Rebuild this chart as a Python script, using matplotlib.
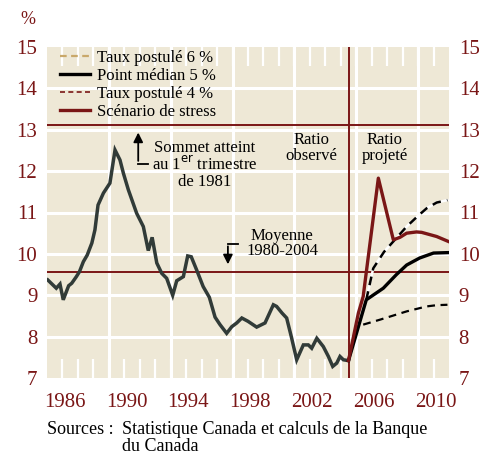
import numpy as np
import matplotlib
matplotlib.use('Agg')
from matplotlib import pyplot as plt
from matplotlib.lines import Line2D

plt.rcParams['font.family'] = ['Liberation Serif', 'DejaVu Serif']

############ DATA

# observed ratio, 1985 - 2004
hist_x = [1985.05, 1985.6, 1985.84, 1986.05, 1986.4, 1986.6, 1986.9, 1987.1, 1987.35, 1987.6,
          1987.9, 1988.1, 1988.3, 1988.65, 1989.07, 1989.4, 1989.72, 1989.94, 1990.26, 1990.8,
          1991.23, 1991.55, 1991.8, 1992.1, 1992.42, 1992.74, 1993.13, 1993.39, 1993.82, 1994.1,
          1994.33, 1994.68, 1995.1, 1995.5, 1995.87, 1996.19, 1996.62, 1996.95, 1997.27, 1997.6,
          1998.0, 1998.56, 1999.1, 1999.64, 1999.85, 2000.2, 2000.5, 2000.8, 2001.15, 2001.58,
          2001.9, 2002.12, 2002.45, 2002.87, 2003.2, 2003.48, 2003.74, 2003.95, 2004.17, 2004.5]
hist_y = [9.37, 9.17, 9.27, 8.89, 9.23, 9.29, 9.45, 9.57, 9.81, 9.97,
          10.26, 10.58, 11.18, 11.47, 11.71, 12.51, 12.27, 11.95, 11.55, 10.98,
          10.66, 10.08, 10.40, 9.78, 9.53, 9.41, 9.0, 9.35, 9.45, 9.95,
          9.93, 9.61, 9.21, 8.95, 8.47, 8.29, 8.08, 8.24, 8.33, 8.45,
          8.37, 8.23, 8.33, 8.77, 8.73, 8.57, 8.45, 8.0, 7.44, 7.8,
          7.8, 7.72, 7.96, 7.76, 7.52, 7.28, 7.36, 7.52, 7.44, 7.42]

# projections
med_x = [2004.5, 2005.65, 2006.75, 2007.6, 2008.26, 2009.1, 2010.0, 2010.9]
med_y = [7.42, 8.89, 9.17, 9.50, 9.73, 9.90, 10.02, 10.03]

high_x = [2005.65, 2006.1, 2006.8, 2007.4, 2008.26, 2009.0, 2009.55, 2010.2, 2010.9]
high_y = [8.89, 9.65, 10.05, 10.30, 10.66, 10.92, 11.10, 11.24, 11.30]

low_x = [2005.45, 2006.54, 2007.4, 2008.26, 2009.55, 2010.2, 2010.9]
low_y = [8.29, 8.41, 8.51, 8.61, 8.73, 8.76, 8.77]

stress_x = [2004.5, 2005.14, 2005.45, 2006.43, 2007.4, 2007.83, 2008.26, 2008.9, 2009.23, 2010.2, 2010.96]
stress_y = [7.42, 8.57, 8.97, 11.83, 10.34, 10.40, 10.50, 10.53, 10.52, 10.42, 10.30]

peak_level = 13.12
mean_level = 9.57
split_year = 2004.5

year_labels = [1986, 1990, 1994, 1998, 2002, 2006, 2010]
y_ticks = [7, 8, 9, 10, 11, 12, 13, 14, 15]

red = '#7a1616'
beige = '#eee8d6'

############ FIGURE

fig = plt.figure(figsize=(4.79, 4.57), dpi=100)
ax = fig.add_axes([47/479, 1-378/457, 402/479, 331/457])
ax.set_facecolor(beige)
for s in ax.spines.values():
    s.set_visible(False)

ax.set_xlim(1985, 2011)
ax.set_ylim(7, 15)

# white grid
for yy in y_ticks[1:-1]:
    ax.axhline(yy, color='white', lw=2.2, zorder=1)
for xx in range(1989, 2011, 4):
    ax.axvline(xx, color='white', lw=2.2, zorder=1)

# yearly white ticks at top and bottom
ax.set_xticks(np.arange(1986, 2011), minor=True)
ax.tick_params(axis='x', which='minor', direction='in', length=14, width=1.6,
               color='white', top=True, bottom=True)
ax.set_xticks([y + 0.15 for y in year_labels])
ax.set_xticklabels([str(y) for y in year_labels])
ax.tick_params(axis='x', which='major', length=0, pad=11, labelsize=15, labelcolor=red)

ax.set_yticks(y_ticks)
ax.tick_params(axis='y', length=0, labelsize=15, labelcolor=red, labelright=True, pad=7)

# reference lines
ax.axhline(peak_level, color=red, lw=1.4, zorder=2)
ax.axhline(mean_level, color=red, lw=1.4, zorder=2)
ax.axvline(split_year, color=red, lw=1.4, zorder=2)

# series
ax.plot(hist_x, hist_y, color='#313b38', lw=2.5, zorder=4, solid_joinstyle='miter')
ax.plot(high_x, high_y, color='white', lw=1.8, zorder=3)
ax.plot(high_x, high_y, color='black', lw=1.8, ls=(0, (3.5, 2.5)), zorder=3)
ax.plot(low_x, low_y, color='black', lw=1.6, ls=(0, (3.5, 2.5)), zorder=3)
ax.plot(med_x, med_y, color='black', lw=2.4, zorder=4)
ax.plot(stress_x, stress_y, color=red, lw=2.4, zorder=5)

# legend
handles = [Line2D([], [], color='#c9a86a', lw=1.6, ls=(0, (3, 2))),
           Line2D([], [], color='black', lw=2.4),
           Line2D([], [], color=red, lw=1.2, ls=(0, (3, 2))),
           Line2D([], [], color=red, lw=2.4)]
labels = ['Taux postulé 6 %', 'Point médian 5 %', 'Taux postulé 4 %', 'Scénario de stress']
ax.legend(handles, labels, loc='upper left', bbox_to_anchor=(0.032, 0.99), frameon=False,
          fontsize=12, handlelength=1.8, handletextpad=0.45, labelspacing=0.12,
          borderaxespad=0, borderpad=0)

# annotations
ax.annotate('', xy=(1990.9, 13.0), xytext=(1990.9, 12.18),
            arrowprops=dict(arrowstyle='-|>', color='black', lw=1.3, mutation_scale=14))
ax.plot([1990.9, 1991.5], [12.18, 12.18], color='black', lw=1.3)
ax.text(1995.2, 12.15, 'Sommet atteint\nau 1$^{\\rm er}$ trimestre\nde 1981', ha='center', va='center',
        fontsize=12, linespacing=0.95)

ax.annotate('', xy=(1996.7, 9.68), xytext=(1996.7, 10.25),
            arrowprops=dict(arrowstyle='-|>', color='black', lw=1.3, mutation_scale=14))
ax.plot([1996.7, 1997.35], [10.25, 10.25], color='black', lw=1.3)
ax.text(2000.2, 10.25, 'Moyenne\n1980-2004', ha='center', va='center', fontsize=12,
        linespacing=0.95)

ax.text(2002.1, 12.56, 'Ratio\nobservé', ha='center', va='center', fontsize=12, linespacing=0.95)
ax.text(2006.85, 12.56, 'Ratio\nprojeté', ha='center', va='center', fontsize=12, linespacing=0.95)

fig.text(28/479, 1-20/457, '%', color=red, fontsize=13, ha='center', va='center')
fig.text(47/479, 1-421/457, 'Sources :', fontsize=13, va='top')
fig.text(122/479, 1-421/457, 'Statistique Canada et calculs de la Banque\ndu Canada', fontsize=13,
         va='top', linespacing=1.0)

fig.savefig('out.png', dpi=100)
